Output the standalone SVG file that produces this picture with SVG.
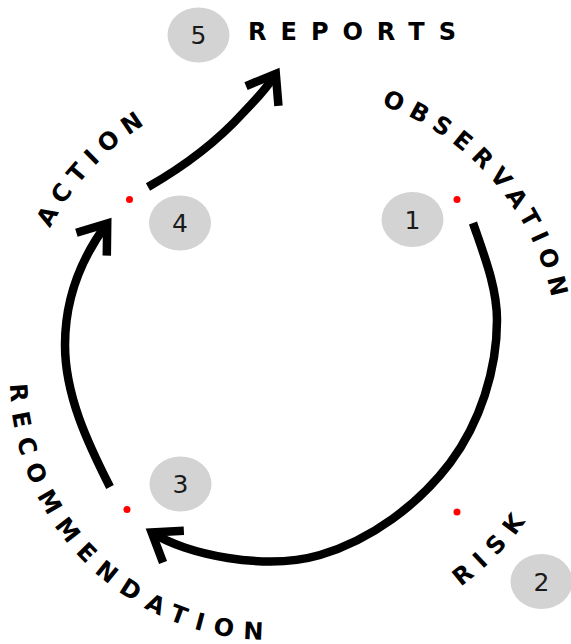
<svg xmlns="http://www.w3.org/2000/svg" width="571" height="644" viewBox="0 0 571 644">
<style>
.lbl{font-family:"DejaVu Sans","Liberation Sans",sans-serif;font-weight:bold;font-size:24px;fill:#000}
.num{font-family:"DejaVu Sans","Liberation Sans",sans-serif;font-size:25px;fill:#1a1a1a;text-anchor:middle}
.bub{fill:#d3d3d3}
.dot{fill:#ff0000}
.arc{fill:none;stroke:#000;stroke-width:8.5;stroke-linecap:butt;marker-end:url(#ah)}
</style>
<defs>
<marker id="ah" markerUnits="userSpaceOnUse" markerWidth="60" markerHeight="60" viewBox="-40 -30 60 60" refX="0" refY="0" orient="auto" overflow="visible">
<path d="M-26,-19 L0,0 L-26,19" fill="none" stroke="#000" stroke-width="8.5" stroke-linejoin="miter"/>
</marker>
<path id="pObs" d="M239.95,95.35 A265,265 0 0 1 544.4,438.9"/>
<path id="pAct" d="M31.25,436 A274,274 0 0 1 353.7,87.8"/>
<path id="pRec" d="M19.3,311.2 A260,260 0 0 0 335.8,631.6"/>
<path id="pRisk" d="M219.5,631.4 A286,286 0 0 0 569.1,280.5"/>
</defs>
<rect width="571" height="644" fill="#fff"/>
<g id="connectors">
<path class="arc" d="M473,223 C483.6,254 497,287 497,320 C497,370 480,423 450,463 C418,505 371,540 320,555 C265.3,571 185.3,554.4 151.7,532.4"/>
<path class="arc" d="M110,487 C87.5,442.5 65,395 65,345 C65,300 80.2,259.4 107.2,223.4"/>
<path class="arc" d="M148,187 C183,167 216,142.6 243,113 C254.6,100.4 265.4,90.8 275.8,73.8"/>
</g>
<g id="step1">
<circle class="dot" cx="457" cy="199.5" r="3.5"/>
<ellipse class="bub" cx="412.5" cy="219.5" rx="31" ry="27.5"/>
<text class="num" x="412.5" y="228.5">1</text>
<text class="lbl" letter-spacing="7.8"><textPath href="#pObs" startOffset="281.4" text-anchor="middle">OBSERVATION</textPath></text>
</g>
<g id="step2">
<circle class="dot" cx="457" cy="512" r="3.5"/>
<ellipse class="bub" cx="541.5" cy="581.5" rx="31" ry="27.5"/>
<text class="num" x="541.5" y="590.5">2</text>
<text class="lbl" letter-spacing="9.7"><textPath href="#pRisk" startOffset="304.3" text-anchor="middle">RISK</textPath></text>
</g>
<g id="step3">
<circle class="dot" cx="127" cy="509.5" r="3.5"/>
<ellipse class="bub" cx="180.5" cy="484" rx="31" ry="27.5"/>
<text class="num" x="180.5" y="493">3</text>
<text class="lbl" letter-spacing="10.6"><textPath href="#pRec" startOffset="277.6" text-anchor="middle">RECOMMENDATION</textPath></text>
</g>
<g id="step4">
<circle class="dot" cx="129.5" cy="199.5" r="3.5"/>
<ellipse class="bub" cx="180" cy="223" rx="31" ry="27.5"/>
<text class="num" x="180" y="232">4</text>
<text class="lbl" letter-spacing="8"><textPath href="#pAct" startOffset="288.7" text-anchor="middle">ACTION</textPath></text>
</g>
<g id="step5">
<ellipse class="bub" cx="198.5" cy="35" rx="31" ry="27.5"/>
<text class="num" x="198.5" y="44">5</text>
<text class="lbl" x="248" y="40" letter-spacing="14">REPORTS</text>
</g>
</svg>
